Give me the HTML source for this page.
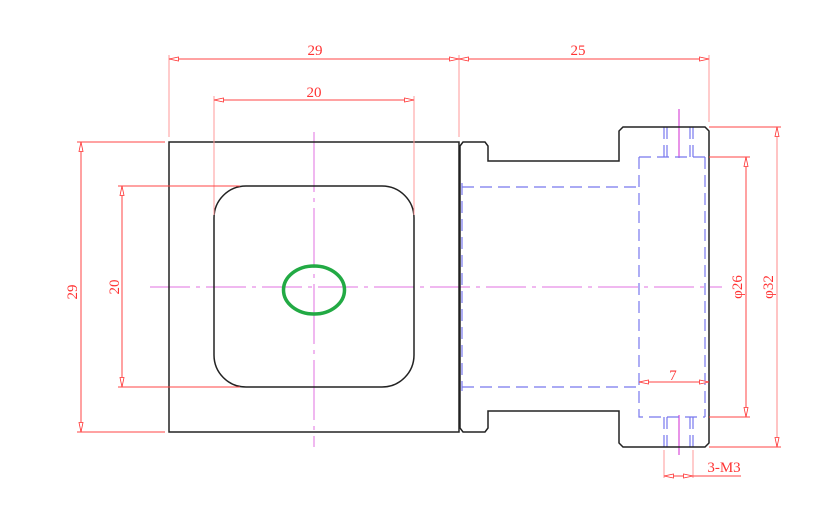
<!DOCTYPE html>
<html><head><style>body{margin:0;background:#fff}svg{display:block}</style></head><body>
<svg width="832" height="508" viewBox="0 0 832 508" xmlns="http://www.w3.org/2000/svg">
<defs>
<marker id="a" viewBox="0 0 12 6" refX="11.5" refY="3" markerWidth="12" markerHeight="6" markerUnits="userSpaceOnUse" orient="auto-start-reverse"><path d="M11.5,3 L2,1 L2,5 Z" fill="#fff" stroke="#f33" stroke-width="0.8"/></marker>
</defs>
<g stroke="#e070e0" stroke-width="1" fill="none">
<line x1="150" y1="287" x2="722" y2="287" stroke-dasharray="40,6,4,6"/>
<line x1="314" y1="132" x2="314" y2="447" stroke-dasharray="60,6,4,6"/>
<line x1="679" y1="109" x2="679" y2="158" stroke-width="1.5"/>
<line x1="679" y1="415" x2="679" y2="455" stroke-width="1.5"/>
</g>
<g stroke="#7777ee" stroke-width="1.2" fill="none" stroke-dasharray="12,6">
<path d="M462,187 H639 M462,387 H639 M462,183 V391"/>
<path d="M639,157 H705 M639,157 V417 H705 M705,157 V417"/>
<path d="M664,127 V157 M667,127 V157 M690,127 V157 M693,127 V157 M664,417 V447 M667,417 V447 M690,417 V447 M693,417 V447"/>
</g>
<g stroke="#222" stroke-width="1.5" fill="none">
<rect x="169" y="142" width="290" height="290"/>
<rect x="214" y="186" width="200" height="201" rx="32" ry="32"/>
<path d="M460,146 L463,142 H485 L488,146 V161 H619 V131 L623,127 H705 L709,131 V443 L705,447 H623 L619,443 V411 H488 V428 L485,432 H463 L460,428 Z"/>
</g>
<ellipse cx="314" cy="290" rx="30.5" ry="24" fill="none" stroke="#22aa44" stroke-width="3.5"/>
<g stroke="#f44" stroke-width="1" fill="none">
<path d="M169,137 V55 M459,137 V55 M709,122 V55 M214,215 V96 M414,215 V96" stroke="#f99"/>
<line x1="169" y1="59" x2="459" y2="59" marker-start="url(#a)" marker-end="url(#a)"/>
<line x1="459" y1="59" x2="709" y2="59" marker-start="url(#a)" marker-end="url(#a)"/>
<line x1="214" y1="100" x2="414" y2="100" marker-start="url(#a)" marker-end="url(#a)"/>
<path d="M77,142 H165 M77,432 H165 M118,186 H240 M118,387 H240"/>
<line x1="81" y1="142" x2="81" y2="432" marker-start="url(#a)" marker-end="url(#a)"/>
<line x1="122" y1="186" x2="122" y2="387" marker-start="url(#a)" marker-end="url(#a)"/>
<path d="M709,127 H781 M709,447 H781 M709,157 H750 M709,417 H750"/>
<line x1="777" y1="127" x2="777" y2="447" marker-start="url(#a)" marker-end="url(#a)" stroke="#f88"/>
<line x1="746" y1="157" x2="746" y2="417" marker-start="url(#a)" marker-end="url(#a)"/>
<line x1="639" y1="382" x2="709" y2="382" marker-start="url(#a)" marker-end="url(#a)"/>
<path d="M664,450 V478 M693,450 V478" stroke="#f99"/>
<line x1="664" y1="476" x2="693" y2="476" marker-start="url(#a)" marker-end="url(#a)"/>
<line x1="693" y1="476" x2="741" y2="476"/>
</g>
<g fill="#f33" font-family="Liberation Serif, serif" font-size="15" text-anchor="middle">
<text x="315" y="55">29</text>
<text x="578" y="55">25</text>
<text x="314" y="97">20</text>
<text x="673" y="380">7</text>
<text x="724" y="472">3-M3</text>
<text transform="translate(77,292) rotate(-90)">29</text>
<text transform="translate(119,287) rotate(-90)">20</text>
<text transform="translate(742,287) rotate(-90)">φ26</text>
<text transform="translate(773,287) rotate(-90)">φ32</text>
</g>
</svg>
</body></html>
